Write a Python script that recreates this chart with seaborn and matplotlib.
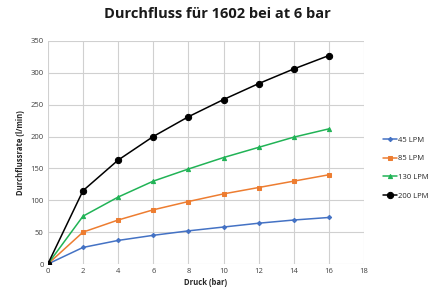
import pandas as pd
import seaborn as sns
import matplotlib.pyplot as plt

# Daten
druck = [0, 2, 4, 6, 8, 10, 12, 14, 16]
lpm_45 = [0, 26, 37, 45, 52, 58, 64, 69, 73]
lpm_85 = [0, 50, 69, 85, 98, 110, 120, 130, 140]
lpm_130 = [0, 75, 105, 130, 149, 167, 183, 199, 212]
lpm_200 = [0, 115, 163, 200, 231, 258, 283, 306, 327]

serien = ['45 LPM', '85 LPM', '130 LPM', '200 LPM']
farben = ['#4472c4', '#ed7d31', '#21b356', '#000000']
marker = ['D', 's', '^', 'o']
groessen = [2.2, 3, 3, 4.5]

df = pd.DataFrame({'Druck': druck * 4,
                   'Wert': lpm_45 + lpm_85 + lpm_130 + lpm_200,
                   'Serie': [s for s in serien for _ in druck]})

sns.set_style('white')
plt.rcParams['font.family'] = ['Open Sans', 'DejaVu Sans']

fig = plt.figure(figsize=(4.35, 2.94), dpi=100)
ax = fig.add_axes([0.110, 0.102, 0.727, 0.759])

for s, c, m, g in zip(serien, farben, marker, groessen):
    sns.lineplot(data=df[df['Serie'] == s], x='Druck', y='Wert', ax=ax, color=c,
                 marker=m, markersize=g, markeredgecolor=c, linewidth=1.1, label=s)

ax.set_xlim(0, 18)
ax.set_ylim(0, 350)
ax.set_xticks(range(0, 19, 2))
ax.set_yticks(range(0, 351, 50))
ax.grid(True, color='#d0d0d0', linewidth=0.8)
for sp in ax.spines.values():
    sp.set_visible(False)
ax.tick_params(labelsize=5.5, colors='#404040', length=0, pad=3)
ax.set_xlabel('Druck (bar)', fontsize=5.5, fontweight='bold', labelpad=2)
ax.set_ylabel('Durchflussrate (l/min)', fontsize=5.5, fontweight='bold', labelpad=4)
fig.suptitle('Durchfluss für 1602 bei at 6 bar', x=0.5, y=0.975,
             fontsize=10.5, fontweight='bold', color='#1a1a1a')

ax.legend(loc='center left', bbox_to_anchor=(1.05, 0.43), frameon=False,
          fontsize=5.5, labelspacing=1.5, handlelength=1.8, handletextpad=0.2,
          borderaxespad=0)

fig.savefig('out.png', dpi=100)
